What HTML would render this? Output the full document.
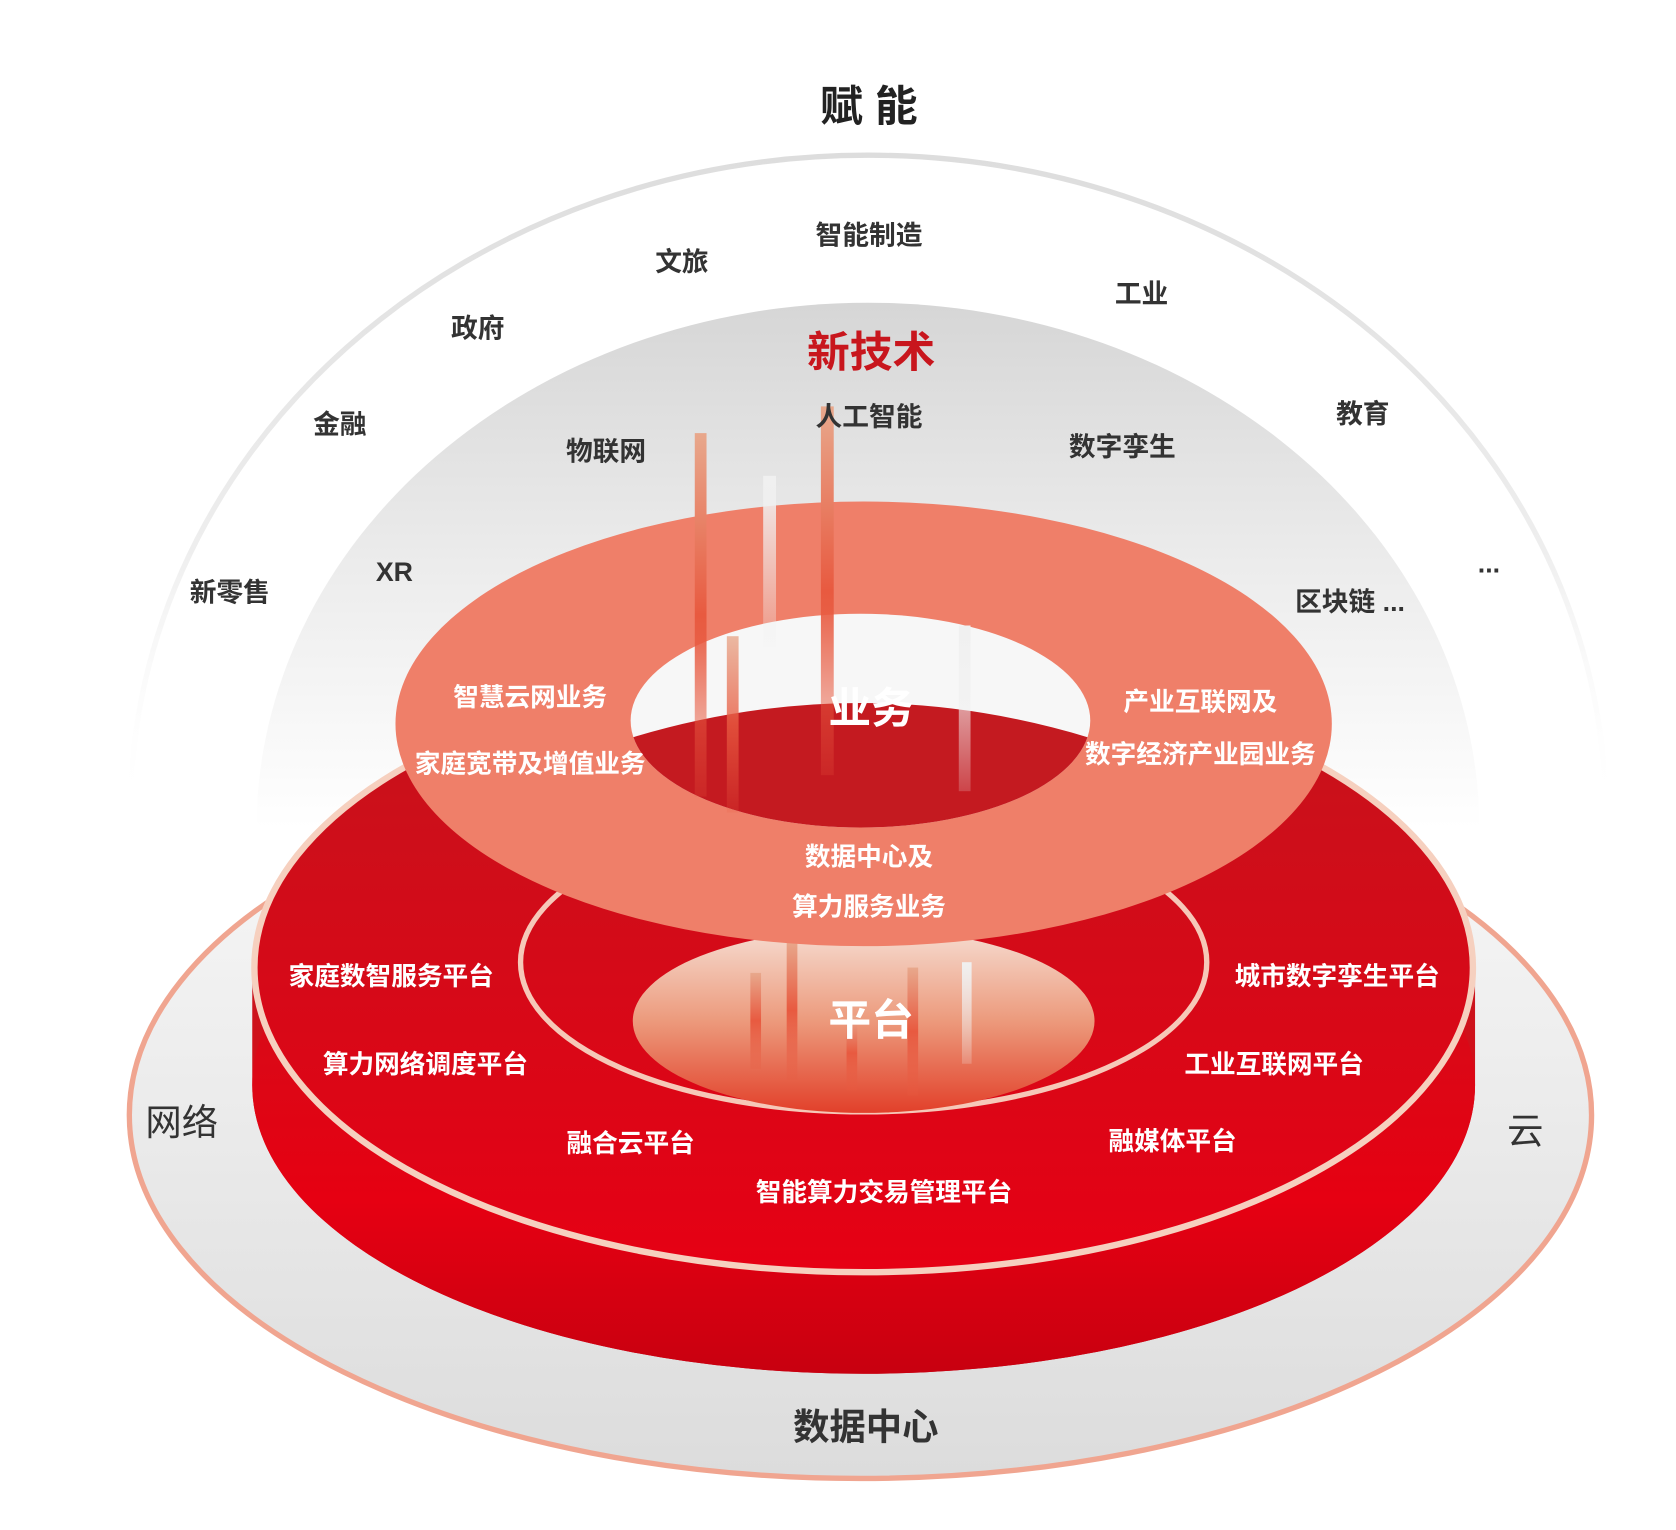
<!DOCTYPE html>
<html><head><meta charset="utf-8"><style>
html,body{margin:0;padding:0;background:#fff}
svg{display:block}
text{font-family:"Liberation Sans","Noto Sans CJK SC",sans-serif;text-anchor:middle;dominant-baseline:central}
.d{fill:#333;font-size:25px;font-weight:bold}
.w{fill:#fff;font-size:24px;font-weight:bold}
</style></head><body>
<svg width="1676" height="1530" viewBox="0 0 1568 1431" xmlns="http://www.w3.org/2000/svg">
<defs>
<linearGradient id="domeStroke" x1="0" y1="0" x2="0" y2="1"><stop offset="0" stop-color="#ddd"/><stop offset="0.6" stop-color="#eee"/><stop offset="1" stop-color="#fff" stop-opacity="0"/></linearGradient>
<linearGradient id="inner" x1="0" y1="0" x2="0" y2="1"><stop offset="0" stop-color="#d6d6d6"/><stop offset="0.5" stop-color="#ececec"/><stop offset="1" stop-color="#fff"/></linearGradient>
<linearGradient id="base" x1="0" y1="0" x2="0" y2="1"><stop offset="0" stop-color="#fafafa"/><stop offset="1" stop-color="#dcdcdc"/></linearGradient>
<linearGradient id="cyl" x1="0" y1="0" x2="0" y2="1"><stop offset="0" stop-color="#c8161d"/><stop offset="0.7" stop-color="#e60012"/><stop offset="1" stop-color="#c80010"/></linearGradient>
<linearGradient id="top" x1="0" y1="0" x2="0" y2="1"><stop offset="0" stop-color="#c4141c"/><stop offset="1" stop-color="#e60014"/></linearGradient>
<linearGradient id="hole2" x1="0" y1="0" x2="0" y2="1"><stop offset="0" stop-color="#f6ddd2"/><stop offset="0.5" stop-color="#ec9a7c"/><stop offset="1" stop-color="#e2402a"/></linearGradient>
<linearGradient id="rod" x1="0" y1="0" x2="0" y2="1"><stop offset="0" stop-color="#e8a88c"/><stop offset="0.5" stop-color="#e85a40"/><stop offset="1" stop-color="#e85a40" stop-opacity="0.2"/></linearGradient>
<linearGradient id="rodw" x1="0" y1="0" x2="0" y2="1"><stop offset="0" stop-color="#f0f0f0"/><stop offset="1" stop-color="#f0f0f0" stop-opacity="0.2"/></linearGradient>
<clipPath id="h1"><ellipse cx="805" cy="674" rx="215" ry="100"/></clipPath>
</defs>
<rect width="1568" height="1431" fill="#fff"/>
<text x="813" y="100" style="font-size:40px;font-weight:bold;fill:#222">赋 能</text>
<path d="M122 760 A690 615 0 0 1 1502 760" fill="none" stroke="url(#domeStroke)" stroke-width="5"/>
<path d="M240 775 A572 492 0 0 1 1384 775 Z" fill="url(#inner)"/>
<ellipse cx="805" cy="1043" rx="684" ry="340" fill="url(#base)" stroke="#f0a590" stroke-width="5"/>
<path d="M236 905 L236 1015 A572 270 0 0 0 1380 1015 L1380 905 Z" fill="url(#cyl)"/>
<ellipse cx="808" cy="1015" rx="572" ry="270" fill="url(#cyl)"/>
<ellipse cx="808" cy="905" rx="570" ry="285" fill="url(#top)" stroke="#f6d0bf" stroke-width="6"/>
<ellipse cx="808" cy="900" rx="321" ry="140" fill="none" stroke="#f6c8b8" stroke-width="5"/>
<ellipse cx="808" cy="955" rx="216" ry="86" fill="url(#hole2)"/>
<rect x="702" y="910" width="10" height="90" fill="url(#rod)"/>
<rect x="736" y="880" width="10" height="130" fill="url(#rod)"/>
<rect x="792" y="950" width="10" height="70" fill="url(#rod)"/>
<rect x="849" y="905" width="10" height="120" fill="url(#rod)"/>
<rect x="900" y="900" width="9" height="95" fill="url(#rodw)"/>
<ellipse cx="808" cy="677" rx="438" ry="208" fill="#ef7f69"/>
<g clip-path="url(#h1)">
<rect x="580" y="560" width="460" height="230" fill="#f7f7f7"/>
<path d="M560 700 Q805 615 1050 700 L1050 800 L560 800 Z" fill="#c41a20"/>
</g>
<rect x="650" y="405" width="11" height="340" fill="url(#rod)"/>
<rect x="714" y="445" width="12" height="160" fill="url(#rodw)"/>
<rect x="768" y="380" width="12" height="345" fill="url(#rod)"/>
<rect x="680" y="595" width="11" height="165" fill="url(#rod)" opacity="0.8"/>
<rect x="897" y="585" width="11" height="155" fill="url(#rodw)"/>
<text x="813" y="220" class="d">智能制造</text>
<text x="638" y="245" class="d">文旅</text>
<text x="1068" y="275" class="d">工业</text>
<text x="447" y="307" class="d">政府</text>
<text x="815" y="330" style="font-size:40px;font-weight:bold;fill:#c8161d">新技术</text>
<text x="318" y="397" class="d">金融</text>
<text x="813" y="390" class="d">人工智能</text>
<text x="1275" y="387" class="d">教育</text>
<text x="567" y="422" class="d">物联网</text>
<text x="1050" y="418" class="d">数字孪生</text>
<text x="369" y="535" class="d">XR</text>
<text x="215" y="554" class="d">新零售</text>
<text x="1393" y="527" class="d">...</text>
<text x="1263" y="563" class="d">区块链 ...</text>
<text x="496" y="653" class="w">智慧云网业务</text>
<text x="496" y="715" class="w">家庭宽带及增值业务</text>
<text x="815" y="663" style="font-size:40px;font-weight:bold;fill:#fff">业务</text>
<text x="1123" y="657" class="w">产业互联网及</text>
<text x="1123" y="706" class="w">数字经济产业园业务</text>
<text x="813" y="802" class="w">数据中心及</text>
<text x="813" y="849" class="w">算力服务业务</text>
<text x="815" y="955" style="font-size:40px;font-weight:bold;fill:#fff">平台</text>
<text x="366" y="914" class="w">家庭数智服务平台</text>
<text x="1251" y="914" class="w">城市数字孪生平台</text>
<text x="398" y="996" class="w">算力网络调度平台</text>
<text x="1192" y="996" class="w">工业互联网平台</text>
<text x="590" y="1070" class="w">融合云平台</text>
<text x="1097" y="1068" class="w">融媒体平台</text>
<text x="827" y="1116" class="w">智能算力交易管理平台</text>
<text x="170" y="1050" style="font-size:34px;fill:#333">网络</text>
<text x="1427" y="1058" style="font-size:34px;fill:#333">云</text>
<text x="810" y="1335" style="font-size:34px;font-weight:bold;fill:#333">数据中心</text>
</svg>
</body></html>
